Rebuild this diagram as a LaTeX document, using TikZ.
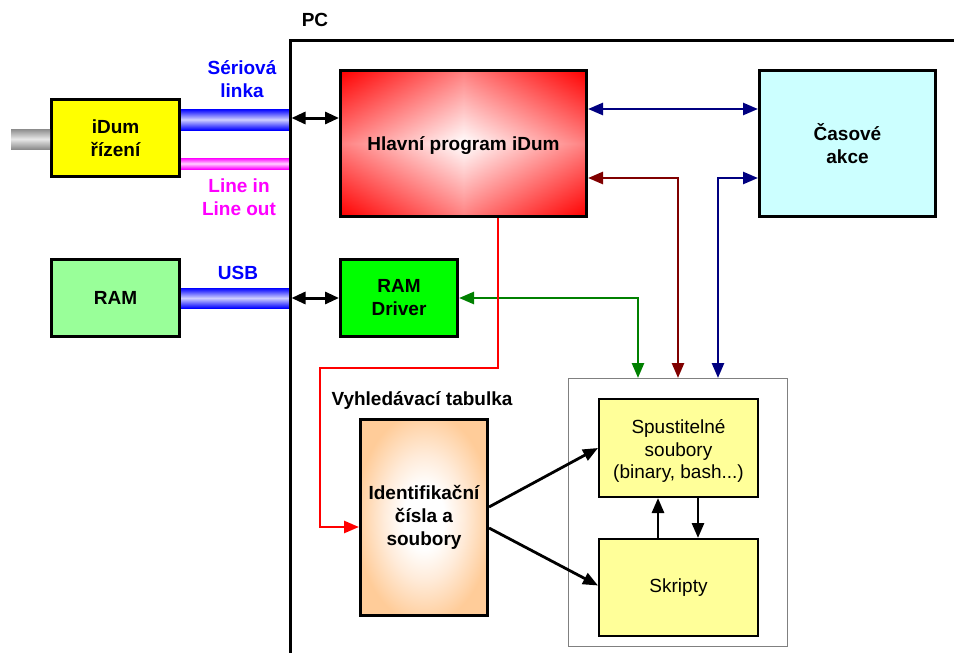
\documentclass[tikz,border=0pt]{standalone}
\usepackage{fontspec}
\setmainfont{Liberation Sans}
\usetikzlibrary{arrows.meta,calc}
\definecolor{navyc}{HTML}{000080}
\definecolor{darkredc}{HTML}{800000}
\definecolor{greenc}{HTML}{008000}
\definecolor{redc}{HTML}{FF0000}
\definecolor{bluec}{HTML}{0000FF}
\definecolor{bluel}{HTML}{D0D0FF}
\definecolor{magc}{HTML}{FF00FF}
\definecolor{magl}{HTML}{FFD0FF}
\definecolor{grayd}{HTML}{8C8C8C}
\definecolor{grayl}{HTML}{E8E8E8}
\definecolor{yelc}{HTML}{FFFF00}
\definecolor{ramc}{HTML}{99FF99}
\definecolor{drvc}{HTML}{00FF00}
\definecolor{cyanc}{HTML}{CCFFFF}
\definecolor{paleyel}{HTML}{FFFF99}
\definecolor{peachc}{HTML}{FFCC99}
\definecolor{peachm}{HTML}{FFEBD9}
\definecolor{contc}{HTML}{808080}
\pgfdeclarefunctionalshading{diamondred}{\pgfpoint{-50bp}{-50bp}}{\pgfpoint{50bp}{50bp}}{}{abs exch abs add 50 div dup 1 gt {pop 1} if 1 exch sub dup 1 3 1 roll}
\pgfdeclareradialshading{peachrad}{\pgfpointorigin}{color(0bp)=(white); color(8bp)=(white); color(16bp)=(peachm); color(27bp)=(peachc); color(50bp)=(peachc)}
\tikzset{
  box/.style={draw=black, line width=3pt, inner sep=0pt, align=center,
    font=\bfseries\fontsize{19}{23}\selectfont},
  sbox/.style={draw=black, line width=2pt, fill=paleyel, inner sep=0pt, align=center,
    font=\fontsize{19}{22.5}\selectfont},
  lab/.style={font=\bfseries\fontsize{19}{23}\selectfont, align=center, inner sep=0pt},
  biarrow/.style={<->, >={Triangle[length=14pt,width=12pt]}, line width=3pt},
  conn/.style={>={Triangle[length=15pt,width=12pt]}, line width=2.6pt},
  bconn/.style={->, >={Triangle[length=15pt,width=12pt]}, line width=2.8pt},
}
\begin{document}
\begin{tikzpicture}[x=1pt,y=-1pt]
\useasboundingbox (0,0) rectangle (954,653);
% boxes
\node[box, fill=yelc, minimum width=128pt, minimum height=77pt] (idum) at (115.5,138) {iDum\\řízení};
\node[box, fill=ramc, minimum width=128pt, minimum height=77pt] (ram) at (115.5,298) {RAM};
\node[box, shade, shading=diamondred, minimum width=246pt, minimum height=146pt] (main) at (463.5,143.5) {\parbox{240pt}{\centering\vspace*{4pt}Hlavní program iDum}};
\node[box, fill=cyanc, minimum width=176pt, minimum height=146pt] (cas) at (847.5,143.5) {Časové\\akce};
\node[box, fill=drvc, minimum width=117pt, minimum height=77pt] (drv) at (399,298) {RAM\\Driver};
\node[box, shade, shading=peachrad, minimum width=127pt, minimum height=196pt] (ident) at (424,517.5) {Identifikační\\čísla a\\soubory};
\node[draw=contc, line width=1pt, inner sep=0pt, minimum width=219pt, minimum height=268pt] (cont) at (678,512.5) {};
\node[sbox, minimum width=159pt, minimum height=98pt] (spust) at (678.5,448) {\parbox{155pt}{\centering\vspace*{6pt}Spustitelné\\soubory\\(binary, bash...)}};
\node[sbox, minimum width=159pt, minimum height=97pt] (skr) at (678.5,587.5) {Skripty};
% labels
\node[lab] (pc) at (315,20) {PC};
\node[lab, text=bluec] (ser) at (242,79) {Sériová\\linka};
\node[lab, text=magc] (line) at (239,197) {Line in\\Line out};
\node[lab, text=bluec] (usb) at (238,273) {USB};
\node[lab] (vyh) at (422,401) {Vyhledávací tabulka};
% cables
\shade[top color=grayd, bottom color=grayd, middle color=grayl] (11,129) rectangle (idum.west |- 0,149);
\shade[top color=bluec, bottom color=bluec, middle color=bluel] (idum.east |- 0,109) rectangle (290,130);
\shade[top color=magc, bottom color=magc, middle color=magl] (idum.east |- 0,158) rectangle (290,169);
\shade[top color=bluec, bottom color=bluec, middle color=bluel] (ram.east |- 0,288) rectangle (290,308);
% PC frame
\coordinate (pcbot) at (290,655);
\coordinate (pctop) at (290,40);
\coordinate (pcright) at (956,40);
\draw[line width=3pt] (pcbot) -- (pctop) -- (pcright);
% black double arrows from frame
\coordinate (pa) at (291.5,118);
\coordinate (pb) at (291.5,298);
\draw[biarrow] (pa) -- (pa -| main.west);
\draw[biarrow] (pb) -- (pb -| drv.west);
% coloured connectors
\coordinate (n1) at (0,109);
\draw[conn, <->, navyc] (main.east |- n1) -- (cas.west |- n1);
\coordinate (rA) at (678,178);
\draw[conn, <->, darkredc] (main.east |- rA) -| (rA |- cont.north);
\coordinate (nA) at (718,178);
\draw[conn, <->, navyc] (cas.west |- nA) -| (nA |- cont.north);
\coordinate (gA) at (638,298);
\draw[conn, <->, greenc] (drv.east |- gA) -| (gA |- cont.north);
\coordinate (r1) at (498,368);
\coordinate (r2) at (320,368);
\coordinate (r3) at (0,527);
\draw[conn, ->, redc] (main.south -| r1) -- (r1) -- (r2) |- (ident.west |- r3);
% black arrows
\draw[bconn] ([yshift=10.5pt]ident.east) -- (spust.west);
\draw[bconn] ([yshift=-10.5pt]ident.east) -- ([yshift=2pt]skr.west);
\draw[bconn] ([xshift=-20.5pt]skr.north) -- ([xshift=-20.5pt]spust.south);
\draw[bconn] ([xshift=19.5pt]spust.south) -- ([xshift=19.5pt]skr.north);
\end{tikzpicture}
\end{document}
